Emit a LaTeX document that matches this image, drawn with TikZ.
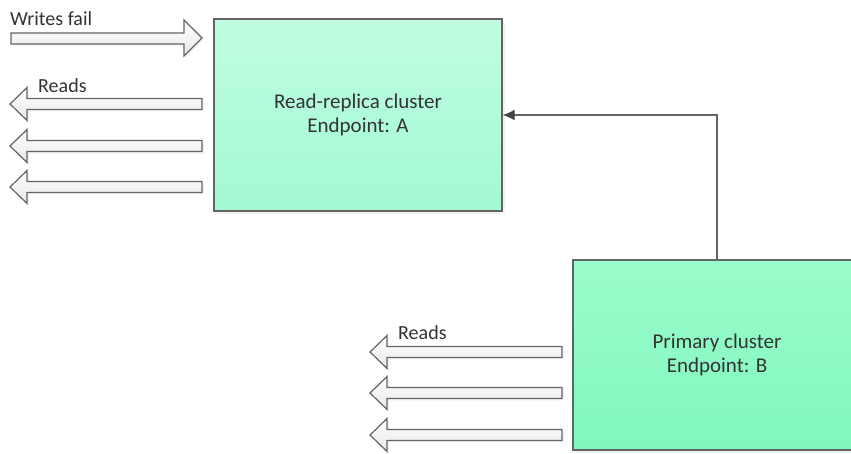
\documentclass[tikz,border=0pt]{standalone}
\usepackage{fontspec}
\setmainfont{Carlito}
\usepackage{tikz}
\usetikzlibrary{positioning}
\usetikzlibrary{shadows}
\usetikzlibrary{arrows.meta}

\definecolor{linegray}{HTML}{646464}
\definecolor{tipgray}{HTML}{444444}
\definecolor{textgray}{HTML}{333333}
\definecolor{mintA}{HTML}{C0FDE1}
\definecolor{mintAb}{HTML}{A2F9D2}
\definecolor{mintB}{HTML}{9BFDCB}
\definecolor{mintBb}{HTML}{80F6BE}

\tikzset{
  cluster/.style={draw=linegray, line width=1.4pt, minimum width=288pt,
    text=textgray, align=center, font=\fontsize{21}{24}\selectfont,
    drop shadow={shadow xshift=3pt, shadow yshift=-3pt, fill=black!10}},
  blockarrow/.style={draw=linegray, line width=1.2pt, top color=white,
    bottom color=black!9,
    drop shadow={shadow xshift=2pt, shadow yshift=-2pt, fill=black!8}},
  flowlabel/.style={anchor=base west, inner sep=0pt, text=textgray,
    font=\fontsize{20}{24}\selectfont}
}

\begin{document}
\begin{tikzpicture}[x=1pt, y=-1pt]
  \useasboundingbox (0,0) rectangle (851,453);

  % clusters
  \node[cluster, minimum height=192pt, top color=mintA, bottom color=mintAb]
    (replica) at (358,115) {Read-replica cluster\\Endpoint: A};
  \node[cluster, minimum height=190pt, top color=mintB, bottom color=mintBb]
    (primary) at (717,355) {Primary cluster\\Endpoint: B};

  % replication
  \draw[linegray, line width=1.4pt,
    -{Latex[length=12pt, width=11pt, color=tipgray]}]
    (primary.north) |- (replica.east);

  % writes to the replica
  \draw[blockarrow] (11,33) -- (184,33) -- (184,20) -- (202,38)
    -- (184,56) -- (184,44) -- (11,44) -- cycle;
  \node[flowlabel] (writes) at (10,25) {Writes fail};

  % reads from the replica
  \foreach \y in {104,146,187}
    \draw[blockarrow] (202,\y-5.5) -- (27,\y-5.5) -- (27,\y-16.5) -- (10,\y)
      -- (27,\y+16.5) -- (27,\y+5.5) -- (202,\y+5.5) -- cycle;
  \node[flowlabel] (readsA) at (38,92) {Reads};

  % reads from the primary
  \foreach \y in {352,393,435}
    \draw[blockarrow] (562,\y-5.5) -- (387,\y-5.5) -- (387,\y-16.5) -- (370,\y)
      -- (387,\y+16.5) -- (387,\y+5.5) -- (562,\y+5.5) -- cycle;
  \node[flowlabel] (readsB) at (398,339) {Reads};
\end{tikzpicture}
\end{document}
